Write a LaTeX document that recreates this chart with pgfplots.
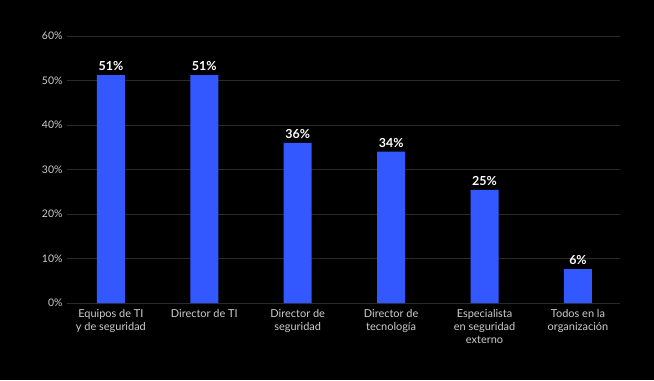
\documentclass[border=0pt]{standalone}
\usepackage{pgfplots}
\pgfplotsset{compat=1.18}
\usepackage{fontspec}
\setmainfont{Lato}
\definecolor{barblue}{RGB}{51,88,255}
\definecolor{gridc}{RGB}{42,42,42}
\definecolor{tickc}{RGB}{205,205,205}
\begin{document}
\begin{tikzpicture}[x=1bp,y=1bp]
\fill[black] (-67,-77) rectangle (587,303);
\begin{axis}[
  at={(0,0)}, anchor=south west,
  scale only axis, width=553bp, height=267bp,
  xmin=-0.47, xmax=5.45, ymin=0, ymax=60,
  axis line style={draw=none},
  tick style={draw=none},
  ymajorgrids, grid style={gridc, line width=1pt},
  ytick={0,10,20,30,40,50,60},
  yticklabel={\pgfmathprintnumber{\tick}\%},
  /pgf/number format/assume math mode=true,
  yticklabel style={tickc, font=\fontsize{10.5}{12}\selectfont, xshift=-1bp},
  xtick={0,1,2,3,4,5},
  xticklabels={Equipos de TI\\y de seguridad, Director de TI, Director de\\seguridad, Director de\\tecnología, Especialista\\en seguridad\\externo, Todos en la\\organización},
  xticklabel style={tickc, font=\fontsize{11}{13}\selectfont, align=center, yshift=-3bp, anchor=north},
  bar width=28bp,
  nodes near coords,
  point meta=explicit symbolic,
  nodes near coords style={white, font=\bfseries\fontsize{12.5}{14}\selectfont, yshift=1bp},
]
\addplot[ybar, fill=barblue, draw=none] coordinates {
  (0,51.2) [51\%]
  (1,51.2) [51\%]
  (2,36) [36\%]
  (3,34) [34\%]
  (4,25.4) [25\%]
  (5,7.6) [6\%]
};
\end{axis}
\end{tikzpicture}
\end{document}
